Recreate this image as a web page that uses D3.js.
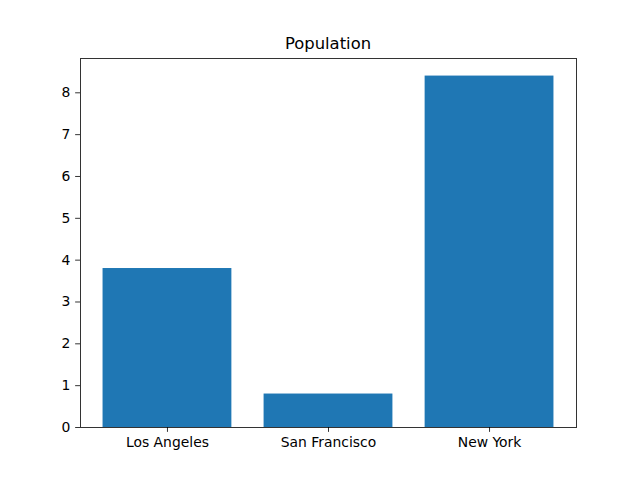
<!DOCTYPE html>
<html><head><meta charset="utf-8">
<script src="https://cdn.jsdelivr.net/npm/d3@7"></script>
<style>body{margin:0;background:#fff}svg{display:block}</style>
</head><body>
<svg id="c" width="640" height="480"></svg>
<script>
const categories = ["Los Angeles", "San Francisco", "New York"];
const values = [3.8, 0.8, 8.4];
const yTicks = [0,1,2,3,4,5,6,7,8];
const title = "Population";

const svg = d3.select("#c");
const L = 80, R = 576, T = 58, B = 427;
const font = "DejaVu Sans, sans-serif";
svg.append("rect").attr("width",640).attr("height",480).attr("fill","#fff");

const barW = 0.8;
const lo = -barW/2, hi = categories.length - 1 + barW/2;
const m = (hi - lo) * 0.05;
const x = d3.scaleLinear().domain([lo - m, hi + m]).range([L, R]);
const y = d3.scaleLinear().domain([0, d3.max(values) * 1.05]).range([B, T]);

svg.selectAll("rect.bar").data(values).join("rect")
  .attr("class","bar")
  .attr("x",(d,i)=>x(i - barW/2))
  .attr("width",(d,i)=>x(i + barW/2) - x(i - barW/2))
  .attr("y",d=>y(d))
  .attr("height",d=>y(0)-y(d))
  .attr("fill","#1f77b4");

const xAxis = d3.axisBottom(x).tickValues(categories.map((c,i)=>i))
  .tickFormat(i=>categories[i]).tickSizeOuter(0).tickSize(4.86).tickPadding(4.86);
const gx = svg.append("g").attr("transform",`translate(0,${B})`).call(xAxis);
const yAxis = d3.axisLeft(y).tickValues(yTicks).tickFormat(d3.format("d"))
  .tickSizeOuter(0).tickSize(4.86).tickPadding(4.86);
const gy = svg.append("g").attr("transform",`translate(${L},0)`).call(yAxis);
[gx, gy].forEach(g=>{
  g.select(".domain").remove();
  g.selectAll("line").attr("stroke","#000").attr("stroke-width",0.8);
  g.selectAll("text").attr("font-family",font).attr("font-size","13.9px").attr("fill","#000");
});

svg.append("rect").attr("x",L).attr("y",T).attr("width",R-L).attr("height",B-T)
  .attr("fill","none").attr("stroke","#000").attr("stroke-width",0.8)
  .attr("shape-rendering","crispEdges");

svg.append("text").attr("x",(L+R)/2).attr("y",T-9.5)
  .attr("text-anchor","middle").attr("font-family",font).attr("font-size","16.4px")
  .attr("fill","#000").text(title);
</script>
</body></html>
